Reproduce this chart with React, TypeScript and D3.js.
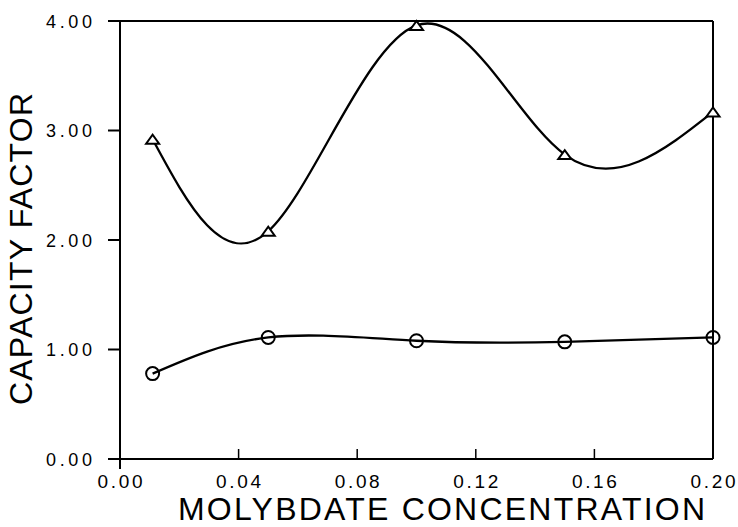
import React from "react";
import * as d3 from "d3";

const xTicks = [0, 0.04, 0.08, 0.12, 0.16, 0.2];
const yTicks = [0, 1, 2, 3, 4];
const concentration = [0.011, 0.05, 0.1, 0.15, 0.2];
const triangleSeries = [2.92, 2.08, 3.96, 2.78, 3.17];
const circleSeries = [0.78, 1.11, 1.08, 1.07, 1.11];
const xTitle = "MOLYBDATE  CONCENTRATION";
const yTitle = "CAPACITY  FACTOR";

export default function App() {
  const W = 738, H = 527;
  const left = 120, right = 713, top = 21, bottom = 459;
  const x = d3.scaleLinear().domain([0, 0.2]).range([left, right]);
  const y = d3.scaleLinear().domain([0, 4]).range([bottom, top]);
  const font = "'Liberation Sans', Arial, sans-serif";

  const triPts = concentration.map((c, i) => [x(c), y(triangleSeries[i])] as [number, number]);
  const cirPts = concentration.map((c, i) => [x(c), y(circleSeries[i])] as [number, number]);
  const triLine = d3.line().curve(d3.curveNatural);
  const cirLine = d3.line().curve(d3.curveNatural);

  const triPath = (cx: number, cy: number) => {
    const s = 6.5, h = 9;
    return `M${cx - s},${cy + h / 2} L${cx + s},${cy + h / 2} L${cx},${cy - h / 2} Z`;
  };

  return (
    <svg width={W} height={H} style={{ position: "absolute", left: 0, top: 0, background: "#fff" }}>
      <rect width={W} height={H} fill="#fff" />
      <g stroke="#000" strokeWidth={2} fill="none">
        <line x1={left} y1={top} x2={left} y2={bottom + 10} />
        <line x1={108} y1={bottom} x2={right} y2={bottom} />
        <line x1={108} y1={top} x2={right} y2={top} />
        <line x1={right} y1={top} x2={right} y2={bottom} />
      </g>
      {yTicks.map((t) => (
        <g key={"y" + t}>
          <line x1={108} x2={left} y1={y(t)} y2={y(t)} stroke="#000" strokeWidth={2} />
          <text x={92} y={y(t) + 6.5} textAnchor="end" fontFamily={font} fontSize={18}
            textLength={46} lengthAdjust="spacing" fill="#000">
            {t.toFixed(2)}
          </text>
        </g>
      ))}
      {xTicks.map((t) => (
        <g key={"x" + t}>
          <line x1={x(t)} x2={x(t)} y1={bottom} y2={bottom - 10} stroke="#000" strokeWidth={1.5} />
          <text x={x(t)} y={488} textAnchor="middle" fontFamily={font} fontSize={19}
            textLength={45} lengthAdjust="spacing" fill="#000">
            {t.toFixed(2)}
          </text>
        </g>
      ))}
      <text x={178} y={520} fontFamily={font} fontSize={32} fill="#000" textLength={527} lengthAdjust="spacing">
        {xTitle}
      </text>
      <text
        transform={`translate(32,${405}) rotate(-90)`}
        fontFamily={font}
        fontSize={32}
        fill="#000"
        textLength={312}
        lengthAdjust="spacing"
      >
        {yTitle}
      </text>
      <path d={triLine(triPts) || ""} fill="none" stroke="#000" strokeWidth={2.3} />
      <path d={cirLine(cirPts) || ""} fill="none" stroke="#000" strokeWidth={2.3} />
      {triPts.map(([cx, cy], i) => (
        <path key={"t" + i} d={triPath(cx, cy)} fill="#fff" stroke="#000" strokeWidth={2} />
      ))}
      {cirPts.map(([cx, cy], i) => (
        <circle key={"c" + i} cx={cx} cy={cy} r={6.5} fill="none" stroke="#000" strokeWidth={2} />
      ))}
    </svg>
  );
}
